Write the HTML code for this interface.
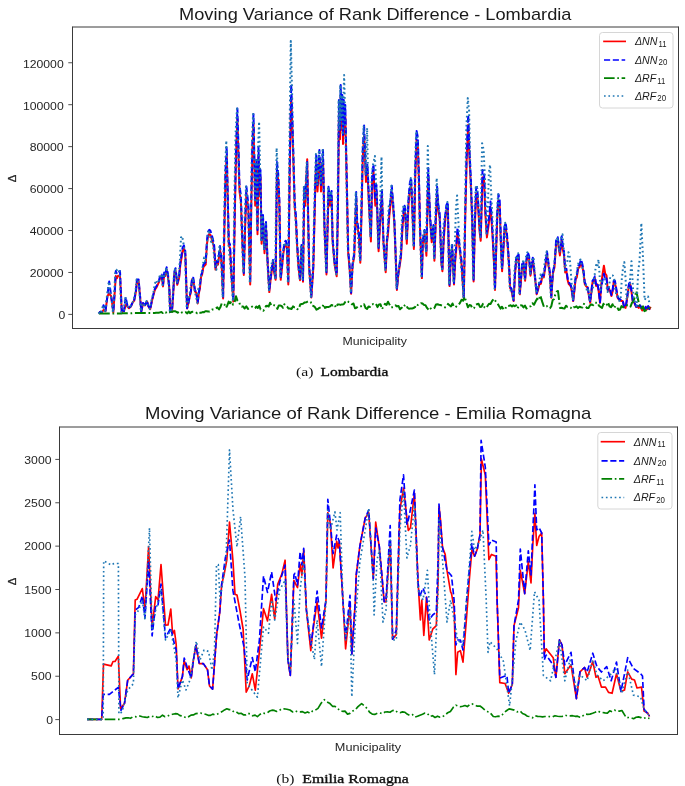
<!DOCTYPE html>
<html><head><meta charset="utf-8"><title>Moving Variance of Rank Difference</title>
<style>
html,body{margin:0;padding:0;background:#ffffff;}
body{width:685px;height:786px;overflow:hidden;font-family:"Liberation Sans",sans-serif;}
svg{display:block;will-change:transform;}
</style></head><body>
<svg width="685" height="786" viewBox="0 0 685 786">
<defs><clipPath id="c1"><rect x="72.5" y="27" width="606" height="301"/></clipPath><clipPath id="c2"><rect x="59.5" y="427" width="618" height="307.5"/></clipPath></defs>
<g fill="none" stroke-linejoin="round" clip-path="url(#c1)">
<polyline points="98.9,313.6 100.2,311.8 101.5,313.0 103.5,310.0 105.5,311.1 107.5,295.9 109.2,293.6 111.0,295.9 112.2,303.6 113.3,312.4 114.8,291.2 115.8,276.0 116.9,278.3 118.0,275.8 120.0,276.0 120.8,291.2 121.8,312.4 122.9,310.6 124.0,311.1 125.7,305.0 127.5,306.4 128.8,308.3 131.0,306.4 132.6,302.7 134.2,300.7 136.0,291.2 137.0,281.1 138.6,281.1 140.0,295.9 141.3,311.5 143.0,303.5 145.0,305.4 147.0,301.6 148.4,306.4 150.2,309.2 152.0,300.7 153.8,293.7 155.1,289.3 156.4,287.7 157.7,284.8 159.1,281.8 160.4,276.4 161.7,276.5 163.0,286.4 164.2,274.7 165.4,276.0 166.6,269.6 167.9,275.6 169.3,288.2 170.2,311.9 172.0,311.1 173.2,294.4 174.3,273.9 175.5,270.5 177.3,284.8 179.1,278.1 180.3,265.2 181.4,258.8 182.6,251.0 183.9,248.8 185.3,254.3 187.1,308.5 188.4,303.3 189.7,296.7 190.9,291.9 192.1,279.2 193.3,279.8 195.0,291.6 196.3,292.8 197.7,303.4 198.8,293.6 199.9,288.3 201.0,277.2 202.1,274.7 203.3,267.3 204.5,265.7 205.7,264.6 206.9,244.7 208.0,236.0 209.2,234.1 210.4,234.8 211.6,238.6 212.8,242.5 214.2,248.8 215.5,269.6 216.8,263.6 218.0,264.6 220.0,249.4 221.6,263.8 223.1,298.4 224.3,232.6 225.5,178.2 226.7,155.3 228.8,245.6 230.0,248.0 231.2,272.2 232.4,288.2 233.3,301.6 234.7,219.3 236.0,157.7 237.4,118.9 239.5,191.4 240.9,201.7 242.4,244.1 243.8,275.0 245.1,227.9 246.4,192.9 248.4,210.4 250.2,284.5 251.3,204.5 252.4,150.5 253.5,124.0 255.2,205.7 256.5,167.7 257.5,234.2 258.5,155.3 259.5,196.2 260.5,177.2 261.6,243.7 263.0,219.9 264.5,253.2 266.0,226.6 267.5,260.8 269.3,292.1 270.5,280.6 271.8,270.5 273.0,262.7 274.3,273.1 275.6,279.8 277.0,169.6 278.2,180.6 279.4,205.7 280.7,279.8 282.0,267.9 283.2,254.7 284.5,246.1 285.8,244.3 287.0,248.4 288.3,284.5 289.8,164.8 291.2,96.0 292.4,129.4 293.5,165.5 294.7,207.4 295.9,220.3 297.0,243.7 298.5,267.4 300.0,280.2 301.5,248.4 303.0,281.7 304.2,193.3 305.2,205.7 307.2,159.3 308.2,221.8 309.2,268.4 311.3,297.5 313.3,268.4 315.3,187.3 316.3,162.0 317.5,191.4 319.4,158.2 321.0,191.4 323.0,158.2 324.5,229.9 326.5,274.4 328.5,193.1 330.0,205.7 331.6,197.1 332.6,241.5 334.6,264.6 336.7,276.3 338.0,205.7 339.0,110.7 340.0,139.2 340.7,96.4 341.5,129.7 342.3,105.9 343.0,143.9 343.8,110.7 344.5,134.4 345.3,115.4 346.0,148.7 346.8,186.7 348.2,253.2 349.6,268.4 351.1,293.7 352.6,265.4 354.2,257.0 356.2,198.1 357.2,225.6 358.8,235.1 360.3,262.7 361.6,210.1 362.8,157.3 364.1,134.9 366.0,181.9 367.5,172.4 369.0,205.7 370.9,241.5 372.1,181.9 373.5,171.9 375.3,205.7 376.5,191.4 378.6,251.3 380.0,224.7 381.9,196.2 383.5,243.7 385.7,272.2 386.9,243.4 388.0,234.2 389.3,215.9 390.5,204.3 391.8,192.2 393.1,207.7 394.4,224.7 395.6,254.9 396.9,289.9 398.3,275.0 399.6,266.3 401.0,257.0 402.5,227.2 404.0,210.4 405.1,212.0 406.8,243.7 408.6,203.2 409.9,189.1 411.2,184.8 413.0,226.6 413.9,248.9 415.2,178.4 416.6,140.1 417.8,145.8 418.9,180.5 420.1,232.0 421.9,278.1 422.8,243.7 424.6,234.1 426.4,255.7 428.2,175.3 430.0,218.4 431.7,242.2 433.5,229.4 434.4,260.8 435.8,220.5 437.1,193.0 438.4,211.4 439.7,218.4 441.5,264.6 442.4,271.2 443.7,240.6 445.0,221.8 446.4,210.6 447.8,207.5 449.5,286.1 450.9,258.1 452.2,248.4 454.0,284.5 455.2,260.6 456.3,248.8 457.5,232.0 458.9,243.3 460.2,253.2 461.4,262.3 462.6,281.0 463.8,298.4 465.3,214.7 466.7,158.5 468.2,124.7 469.5,158.9 470.9,186.7 472.2,221.5 473.6,281.4 474.9,223.9 476.2,193.4 477.3,194.8 478.4,211.1 479.6,231.7 480.7,240.8 482.5,177.2 484.0,178.3 485.4,215.2 486.9,237.4 488.1,228.8 489.3,219.8 490.5,207.0 491.6,221.5 492.8,240.9 493.9,261.1 495.0,289.9 496.2,249.9 497.3,216.3 498.5,200.3 499.7,206.0 500.9,244.2 502.1,271.2 503.3,252.1 504.4,231.3 505.6,227.2 506.7,234.9 507.9,248.6 509.0,265.4 510.1,288.2 511.3,289.6 512.4,295.5 513.6,301.1 514.9,276.0 516.2,260.5 517.4,259.0 518.6,256.2 519.8,294.3 521.0,280.1 522.2,265.1 523.4,263.9 525.1,280.7 526.5,261.4 527.8,255.4 529.1,259.0 530.5,275.7 531.6,266.8 532.8,260.5 534.1,270.7 535.4,281.5 536.7,294.3 538.0,290.0 539.4,284.2 540.9,283.7 542.3,276.6 543.8,277.4 545.4,266.4 547.0,254.6 548.4,264.8 549.9,274.4 551.3,297.7 552.9,273.8 554.5,267.2 556.1,244.1 557.7,241.0 559.9,255.4 561.7,240.2 562.9,249.7 564.0,254.8 565.2,272.4 566.4,271.0 567.6,279.9 568.8,284.2 569.9,285.1 571.0,287.1 572.1,293.0 573.2,301.1 574.4,290.5 575.6,279.2 576.8,277.4 578.2,268.2 579.5,267.4 580.9,262.2 582.2,266.0 583.5,272.5 584.8,284.2 586.1,286.3 587.5,287.4 588.9,295.5 590.2,302.8 591.4,292.2 592.5,282.5 593.7,280.7 594.9,278.1 596.1,285.9 597.3,284.2 598.6,290.8 600.0,302.8 601.3,283.6 602.6,273.8 603.9,265.7 605.2,273.7 606.5,275.3 607.8,290.9 609.0,288.6 610.2,291.4 611.4,296.0 612.6,291.4 613.7,282.4 614.9,282.4 616.2,289.4 617.6,297.7 618.8,299.4 620.0,299.8 621.2,301.1 622.7,300.9 624.1,307.2 625.6,307.9 626.7,301.3 627.9,292.7 629.0,285.0 630.1,284.2 631.4,291.2 632.7,301.1 633.9,301.6 635.1,304.7 636.3,307.0 637.5,306.3 638.7,308.0 639.8,305.6 641.0,307.1 642.2,310.5 643.4,308.8 644.6,310.1 645.8,307.1 647.0,309.3 648.2,306.5 649.4,309.2 650.6,306.7" stroke="#ff0000" stroke-width="2.00" stroke-linecap="butt"/>
<polyline points="98.9,313.6 100.2,311.7 101.5,313.0 103.5,305.2 105.5,311.0 107.5,295.0 109.2,281.6 111.0,295.0 112.2,303.1 113.3,312.3 114.8,290.0 115.8,271.0 116.9,274.0 118.0,272.0 120.0,271.0 120.8,290.0 121.8,312.3 122.9,310.4 124.0,311.0 125.7,297.2 127.5,306.0 128.8,308.0 131.0,306.0 132.6,302.1 134.2,300.0 136.0,290.0 137.0,279.4 138.6,279.4 140.0,295.0 141.3,311.4 143.0,303.0 145.0,305.0 147.0,301.0 148.4,306.0 150.2,309.0 152.0,300.0 153.8,292.7 155.1,288.0 156.4,286.3 157.7,283.3 159.1,280.2 160.4,274.4 161.7,274.5 163.0,285.0 164.2,272.6 165.4,274.1 166.6,267.3 167.9,273.6 169.3,286.9 170.2,311.8 172.0,311.0 173.2,293.4 174.3,271.9 175.5,268.2 177.3,283.3 179.1,276.2 180.3,262.6 181.4,255.9 182.6,247.7 183.9,245.4 185.3,251.2 187.1,308.2 188.4,302.8 189.7,295.8 190.9,290.8 192.1,277.4 193.3,278.0 195.0,290.4 196.3,291.7 197.7,302.9 198.8,292.6 199.9,286.9 201.0,275.3 202.1,272.6 203.3,264.8 204.5,263.2 205.7,262.0 206.9,241.1 208.0,231.9 209.2,229.9 210.4,230.7 211.6,234.7 212.8,238.8 214.2,245.4 215.5,267.3 216.8,260.9 218.0,262.0 220.0,246.0 221.6,261.2 223.1,297.6 224.3,228.3 225.5,171.1 226.7,147.0 228.8,242.0 230.0,244.5 231.2,270.0 232.4,286.9 233.3,301.0 234.7,214.3 236.0,149.5 237.4,108.6 239.5,185.0 240.9,195.8 242.4,240.4 243.8,273.0 245.1,223.4 246.4,186.5 248.4,205.0 250.2,283.0 251.3,198.8 252.4,141.9 253.5,114.0 255.2,200.0 256.5,160.0 257.5,230.0 258.5,147.0 259.5,190.0 260.5,170.0 261.6,240.0 263.0,215.0 264.5,250.0 266.0,222.0 267.5,258.0 269.3,291.0 270.5,278.9 271.8,268.2 273.0,260.0 274.3,271.0 275.6,278.0 277.0,162.0 278.2,173.6 279.4,200.0 280.7,278.0 282.0,265.5 283.2,251.5 284.5,242.5 285.8,240.7 287.0,245.0 288.3,283.0 289.8,157.0 291.2,84.5 292.4,119.7 293.5,157.7 294.7,201.8 295.9,215.4 297.0,240.0 298.5,265.0 300.0,278.4 301.5,245.0 303.0,280.0 304.2,187.0 305.2,200.0 307.2,162.0 308.2,217.0 309.2,266.0 311.3,296.7 313.3,266.0 315.3,180.7 316.3,154.0 317.5,185.0 319.4,150.0 321.0,185.0 323.0,150.0 324.5,225.5 326.5,272.3 328.5,186.8 330.0,200.0 331.6,191.0 332.6,237.7 334.6,262.0 336.7,274.3 338.0,200.0 339.0,100.0 340.0,130.0 340.7,85.0 341.5,120.0 342.3,95.0 343.0,135.0 343.8,100.0 344.5,125.0 345.3,105.0 346.0,140.0 346.8,180.0 348.2,250.0 349.6,266.1 351.1,292.7 352.6,262.8 354.2,254.0 356.2,192.0 357.2,221.0 358.8,230.9 360.3,260.0 361.6,204.7 362.8,149.1 364.1,125.5 366.0,175.0 367.5,165.0 369.0,200.0 370.9,237.7 372.1,175.0 373.5,164.4 375.3,200.0 376.5,185.0 378.6,248.0 380.0,220.0 381.9,190.0 383.5,240.0 385.7,270.0 386.9,239.7 388.0,230.0 389.3,210.8 390.5,198.5 391.8,185.8 393.1,202.2 394.4,220.0 395.6,251.8 396.9,288.6 398.3,272.9 399.6,263.8 401.0,254.0 402.5,222.7 404.0,205.0 405.1,206.7 406.8,240.0 408.6,197.4 409.9,182.5 411.2,178.0 413.0,222.0 413.9,245.5 415.2,171.2 416.6,131.0 417.8,136.9 418.9,173.5 420.1,227.7 421.9,276.2 422.8,240.0 424.6,229.9 426.4,252.6 428.2,168.0 430.0,213.4 431.7,238.4 433.5,225.0 434.4,258.0 435.8,215.6 437.1,186.7 438.4,206.0 439.7,213.4 441.5,262.0 442.4,269.0 443.7,236.8 445.0,217.0 446.4,205.2 447.8,201.9 449.5,284.7 450.9,255.2 452.2,245.0 454.0,283.0 455.2,257.8 456.3,245.4 457.5,227.7 458.9,239.6 460.2,250.0 461.4,259.6 462.6,279.3 463.8,297.6 465.3,209.5 466.7,150.4 468.2,114.8 469.5,150.8 470.9,180.0 472.2,216.6 473.6,279.7 474.9,219.1 476.2,187.1 477.3,188.5 478.4,205.7 479.6,227.4 480.7,237.0 482.5,170.0 484.0,171.1 485.4,210.0 486.9,233.4 488.1,224.4 489.3,214.8 490.5,201.4 491.6,216.7 492.8,237.0 493.9,258.3 495.0,288.7 496.2,246.5 497.3,211.1 498.5,194.3 499.7,200.4 500.9,240.5 502.1,269.0 503.3,248.8 504.4,227.0 505.6,222.7 506.7,230.8 507.9,245.2 509.0,262.8 510.1,286.9 511.3,288.4 512.4,294.5 513.6,300.4 514.9,274.0 516.2,257.7 517.4,256.2 518.6,253.2 519.8,293.3 521.0,278.3 522.2,262.5 523.4,261.3 525.1,279.0 526.5,258.7 527.8,252.3 529.1,256.1 530.5,273.7 531.6,264.3 532.8,257.7 534.1,268.5 535.4,279.8 536.7,293.3 538.0,288.7 539.4,282.6 540.9,282.1 542.3,274.6 543.8,275.5 545.4,263.9 547.0,251.5 548.4,262.2 549.9,272.4 551.3,296.9 552.9,271.7 554.5,264.8 556.1,240.5 557.7,237.2 559.9,252.3 561.7,236.3 562.9,246.4 564.0,251.7 565.2,270.2 566.4,268.8 567.6,278.1 568.8,282.6 569.9,283.6 571.0,285.7 572.1,291.9 573.2,300.4 574.4,289.3 575.6,277.4 576.8,275.5 578.2,265.9 579.5,264.9 580.9,259.5 582.2,263.4 583.5,270.3 584.8,282.6 586.1,284.8 587.5,286.0 588.9,294.6 590.2,302.2 591.4,291.1 592.5,280.9 593.7,279.0 594.9,276.3 596.1,284.4 597.3,282.6 598.6,289.6 600.0,302.2 601.3,287.1 602.6,280.1 603.9,273.7 605.2,279.7 606.5,278.4 607.8,289.7 609.0,287.3 610.2,290.2 611.4,295.1 612.6,290.2 613.7,280.8 614.9,280.8 616.2,288.1 617.6,296.9 618.8,298.7 620.0,299.1 621.2,300.4 622.7,300.2 624.1,306.8 625.6,307.6 626.7,300.6 627.9,291.6 629.0,283.5 630.1,282.6 631.4,290.0 632.7,300.4 633.9,301.0 635.1,304.2 636.3,306.7 637.5,305.9 638.7,307.7 639.8,305.2 641.0,306.7 642.2,310.3 643.4,308.5 644.6,309.9 645.8,306.7 647.0,309.1 648.2,306.1 649.4,309.0 650.6,306.7" stroke="#0000ff" stroke-width="2.00" stroke-dasharray="6.29 2.72"/>
<polyline points="98.9,313.6 100.2,313.6 101.5,313.6 102.9,313.6 104.2,313.6 105.5,313.5 106.8,313.5 108.1,313.5 109.5,313.5 110.8,313.5 112.1,313.5 113.4,313.5 114.7,313.4 116.0,313.4 117.4,313.4 118.7,313.4 120.0,313.4 121.3,313.4 122.7,313.3 124.0,313.3 125.3,313.3 126.7,313.3 128.0,313.2 129.3,313.2 130.7,313.2 132.0,313.2 133.3,313.1 134.7,313.1 136.0,313.1 137.3,313.1 138.7,313.0 140.0,313.0 141.3,313.0 142.7,313.0 144.0,313.0 145.3,312.9 146.7,312.9 148.0,312.9 149.3,312.9 150.7,312.9 152.0,312.9 153.3,312.9 154.7,312.9 156.0,312.8 157.3,312.8 158.7,312.8 160.0,312.4 161.4,312.0 162.7,313.0 164.1,311.7 165.5,312.6 166.8,312.2 168.2,311.5 169.5,312.3 170.9,311.3 172.3,312.0 173.6,311.2 175.0,311.2 176.4,311.9 177.7,312.7 179.1,311.4 180.5,311.6 181.8,312.5 183.2,313.2 184.5,312.5 185.9,312.2 187.3,313.4 188.6,311.5 190.0,313.2 191.4,312.1 192.9,311.8 194.3,311.7 195.7,312.1 197.1,313.1 198.6,311.9 200.0,312.7 201.3,312.7 202.7,312.1 204.0,312.3 205.3,311.3 206.7,311.2 208.0,311.4 209.5,311.6 211.0,310.4 212.5,309.4 214.0,309.4 215.7,308.4 217.3,307.4 219.0,309.4 220.3,307.3 221.7,303.4 223.0,303.4 224.5,304.6 226.0,307.8 227.3,305.4 228.7,301.6 230.0,303.3 231.5,301.2 233.0,304.6 234.5,302.7 236.0,296.3 237.5,300.9 239.0,301.8 240.3,305.5 241.7,306.6 243.0,306.4 244.7,308.5 246.3,306.4 248.0,308.9 249.4,308.1 250.8,307.6 252.2,306.6 253.6,308.0 255.0,308.1 256.4,306.5 257.8,308.0 259.2,305.7 260.6,309.4 262.0,309.7 263.3,310.7 264.7,309.2 266.0,306.0 267.3,305.8 268.7,306.5 270.0,302.7 271.5,305.6 273.0,304.9 274.5,305.4 276.0,305.9 277.4,308.9 278.8,305.4 280.2,305.6 281.6,305.9 283.0,307.8 284.4,304.2 285.8,306.2 287.2,306.8 288.6,308.6 290.0,308.5 291.5,309.0 293.0,306.4 294.5,307.3 296.0,307.3 297.4,309.2 298.8,309.0 300.2,304.5 301.6,304.0 303.0,303.7 304.7,302.4 306.3,302.3 308.0,301.4 309.3,301.5 310.7,302.0 312.0,305.6 313.5,305.9 315.0,307.3 316.5,309.7 318.0,308.9 319.4,307.7 320.8,307.8 322.2,307.6 323.6,304.3 325.0,307.9 326.7,307.0 328.3,307.1 330.0,306.4 331.5,305.0 333.0,305.5 334.5,304.6 336.0,307.6 337.5,304.6 339.0,304.4 340.5,304.9 342.0,304.4 343.7,304.2 345.3,301.9 347.0,300.6 348.7,302.0 350.3,302.4 352.0,304.3 353.5,303.5 355.0,308.3 356.5,307.8 358.0,306.3 359.5,306.3 361.0,306.3 362.5,305.8 364.0,304.2 365.5,307.9 367.0,308.9 368.5,306.6 370.0,306.9 371.5,304.5 373.0,304.1 374.5,304.7 376.0,303.9 377.5,307.1 379.0,304.4 380.5,304.2 382.0,309.2 383.5,306.4 385.0,303.8 386.5,305.0 388.0,301.7 389.5,304.6 391.0,307.3 392.5,307.2 394.0,306.9 395.5,305.4 397.0,306.4 398.5,305.9 400.0,309.3 401.5,307.7 403.0,308.3 404.5,305.7 406.0,304.7 407.5,307.7 409.0,308.8 410.5,308.4 412.0,308.5 413.5,308.0 415.0,307.2 416.5,304.2 418.0,305.1 419.5,304.6 421.0,303.2 422.5,303.5 424.0,304.9 425.5,305.3 427.0,307.9 428.5,309.7 430.0,307.7 431.5,309.3 433.0,308.8 434.5,307.9 436.0,304.4 437.5,304.2 439.0,304.7 440.5,305.0 442.0,305.6 443.5,306.8 445.0,307.4 446.5,306.4 448.0,303.9 449.5,305.2 451.0,306.4 452.5,303.5 454.0,306.8 455.5,307.2 457.0,305.9 458.5,305.0 460.0,302.9 461.6,299.7 463.1,300.8 464.7,296.8 466.4,302.7 468.0,307.3 469.5,305.0 471.0,305.5 472.5,308.6 474.0,308.1 475.5,304.9 477.0,304.2 478.5,303.8 480.0,306.9 481.5,306.7 483.0,303.8 484.5,307.3 486.0,308.3 487.5,306.0 489.0,303.8 490.5,304.0 492.0,301.2 493.9,298.7 495.8,301.3 497.4,303.2 499.0,306.1 500.5,308.6 502.0,306.7 503.5,309.3 505.0,309.6 506.4,306.2 507.8,306.0 509.2,305.8 510.6,305.2 512.0,306.4 513.3,305.2 514.7,306.3 516.0,305.2 517.5,308.5 519.0,305.3 520.5,305.3 522.0,305.4 523.5,307.4 525.0,305.6 526.5,308.5 528.0,307.0 529.5,306.7 531.0,306.1 532.5,303.2 534.0,304.7 535.6,301.5 537.1,298.6 538.7,300.4 540.3,295.4 542.1,301.4 544.0,307.1 545.5,306.8 547.0,306.2 548.5,307.6 550.0,308.3 551.3,306.3 552.7,300.0 554.0,299.1 555.3,294.6 556.7,291.7 558.0,291.0 560.0,308.0 561.5,307.8 563.0,308.2 564.5,308.5 566.0,305.7 567.5,307.0 569.0,307.0 570.5,307.6 572.0,308.9 573.5,307.3 575.0,307.2 576.5,306.4 578.0,308.1 579.5,306.7 581.0,307.3 582.5,307.4 584.0,303.8 585.5,305.8 587.0,308.1 588.5,308.1 590.0,305.3 591.5,304.4 593.0,305.2 594.5,302.7 596.0,302.8 597.5,302.5 599.0,305.8 600.5,306.9 602.0,307.9 603.5,303.8 605.0,306.0 606.5,305.3 608.0,302.3 609.5,306.3 611.0,307.2 612.5,304.2 614.0,308.2 615.5,306.0 617.0,306.9 618.5,309.9 620.0,309.6 621.5,306.1 623.0,307.2 624.5,307.3 626.0,306.2 627.5,305.0 629.0,305.1 630.5,306.6 632.0,302.7 633.4,301.4 634.9,296.9 636.3,291.0 638.1,299.8 640.0,308.6 641.5,308.3 643.0,306.4 644.5,311.1 646.0,310.4 647.5,310.9 649.1,306.4 650.6,308.0" stroke="#008000" stroke-width="2.00" stroke-dasharray="10.88 2.72 1.70 2.72"/>
<polyline points="98.5,313.6 99.8,311.9 101.1,313.0 103.1,305.2 105.1,311.0 107.1,295.0 108.8,281.6 110.6,295.0 111.8,301.4 112.9,312.3 114.4,290.0 115.4,271.0 116.5,269.7 117.6,272.0 119.6,271.0 120.4,290.0 121.4,312.3 122.5,312.0 123.6,311.0 125.3,297.2 127.1,306.0 128.4,308.0 130.6,306.0 132.2,303.0 133.8,300.0 135.6,290.0 136.6,279.4 138.2,279.4 139.6,295.0 140.9,311.4 142.6,303.0 144.6,305.0 146.6,301.0 148.0,306.0 149.8,309.0 151.6,300.0 153.4,292.7 154.7,284.3 156.0,280.2 157.3,283.3 158.7,281.4 160.0,274.4 161.3,275.4 162.6,285.0 163.8,273.9 165.0,277.0 166.2,267.3 167.5,273.9 168.9,286.9 169.8,311.8 171.6,311.0 172.8,294.5 173.9,276.2 175.1,268.2 176.9,283.3 178.7,276.2 179.9,260.0 181.0,237.6 182.2,236.0 183.5,243.8 184.9,251.2 186.7,308.2 188.0,302.9 189.3,295.8 190.5,287.9 191.7,284.0 192.9,278.0 194.6,290.4 195.9,296.3 197.3,302.9 198.4,288.4 199.5,286.0 200.6,277.5 201.7,272.6 202.9,265.1 204.1,257.5 205.3,262.0 206.5,253.6 207.6,235.6 208.8,229.9 210.0,235.9 211.2,242.0 212.4,238.8 213.8,252.4 215.1,267.3 216.3,269.8 217.6,262.0 219.6,246.0 221.2,262.8 222.7,297.6 223.9,232.3 225.1,169.1 226.3,140.6 228.4,242.0 229.6,257.8 230.8,271.6 232.0,286.9 232.9,301.0 234.3,204.0 235.6,132.8 237.0,108.6 239.1,185.0 240.5,194.8 242.0,242.0 243.4,273.0 244.7,215.7 246.0,186.5 248.0,205.0 249.8,283.0 250.9,209.1 252.0,139.5 253.1,114.0 254.8,200.0 256.1,160.0 257.1,230.0 258.1,147.0 259.1,121.6 260.1,170.0 261.2,240.0 262.6,215.0 264.1,250.0 265.6,222.0 267.1,258.0 268.9,291.0 270.1,277.0 271.4,264.4 272.6,260.0 273.9,264.3 275.2,278.0 276.6,148.0 277.8,169.1 279.0,200.0 280.3,278.0 281.6,263.0 282.8,256.0 284.1,242.5 285.4,246.6 286.6,245.0 287.9,283.0 289.4,143.1 290.8,41.0 292.0,89.2 293.1,147.3 294.3,201.8 295.5,219.2 296.6,240.0 298.1,265.0 299.6,278.4 301.1,245.0 302.6,280.0 303.8,187.0 304.8,200.0 306.8,162.0 307.8,217.0 308.8,266.0 310.9,296.7 312.9,266.0 314.9,180.7 315.9,154.0 317.1,185.0 319.0,150.0 320.6,185.0 322.6,150.0 324.1,225.5 326.1,272.3 328.1,186.8 329.6,200.0 331.2,191.0 332.2,237.7 334.2,262.0 336.3,274.3 337.6,200.0 338.6,100.0 339.6,130.0 340.3,85.0 341.1,120.0 341.9,95.0 342.6,135.0 343.4,100.0 344.1,75.0 344.9,105.0 345.6,140.0 346.4,180.0 347.8,250.0 349.2,260.5 350.7,292.7 352.2,272.5 353.8,254.0 355.8,192.0 356.8,221.0 358.4,243.7 359.9,260.0 361.2,209.1 362.4,153.7 363.7,125.5 365.6,175.0 367.1,127.9 368.6,200.0 370.5,237.7 371.7,175.0 373.1,164.4 374.9,156.0 376.1,185.0 378.2,248.0 379.6,220.0 381.5,156.7 383.1,240.0 385.3,270.0 386.5,247.9 387.6,230.0 388.9,203.0 390.1,203.1 391.4,185.8 392.7,200.5 394.0,217.5 395.2,245.6 396.5,288.6 397.9,277.2 399.2,267.8 400.6,254.0 402.1,213.5 403.6,205.0 404.7,206.7 406.4,240.0 408.2,197.4 409.5,193.3 410.8,178.0 412.6,222.0 413.5,245.5 414.9,168.7 416.2,131.0 417.4,137.6 418.5,177.8 419.7,227.7 421.5,276.2 422.4,240.0 424.2,229.9 426.0,252.6 427.8,146.0 429.6,213.4 431.3,238.4 433.1,225.0 434.0,258.0 435.4,212.8 436.7,178.0 438.0,200.6 439.3,213.4 441.1,262.0 442.0,269.0 443.3,226.7 444.6,217.0 446.0,210.0 447.4,201.9 449.1,284.7 450.5,252.3 451.8,245.0 453.6,283.0 454.8,247.0 455.9,208.5 457.1,195.6 458.5,223.5 459.8,250.0 461.0,266.3 462.2,276.0 463.4,297.6 464.9,218.7 466.3,129.3 467.8,97.9 469.1,110.6 470.5,180.0 471.9,217.5 473.2,279.7 474.5,209.6 475.8,187.1 476.9,185.3 478.1,202.5 479.2,221.9 480.3,237.0 482.1,143.3 483.6,149.5 485.0,180.1 486.5,233.4 487.7,211.3 488.9,172.4 490.1,164.7 491.2,193.5 492.4,218.0 493.5,243.1 494.6,288.7 495.8,245.0 496.9,212.9 498.1,194.3 499.3,212.1 500.5,236.8 501.7,269.0 502.9,248.9 504.0,234.0 505.2,222.7 506.3,239.5 507.5,245.5 508.6,263.4 509.7,286.9 510.9,291.6 512.0,292.0 513.2,300.4 514.5,270.3 515.8,257.7 517.0,262.2 518.2,253.2 519.4,293.3 520.6,279.0 521.8,268.1 523.0,261.3 524.7,279.0 526.1,254.7 527.4,252.3 528.8,258.6 530.1,273.7 531.2,264.5 532.4,257.7 533.7,257.9 535.0,278.4 536.3,293.3 537.6,287.7 539.0,282.6 540.5,274.5 541.9,278.3 543.4,275.5 545.0,259.5 546.6,251.5 548.0,262.9 549.5,274.5 550.9,296.9 552.5,278.6 554.1,264.8 555.7,251.0 557.3,237.2 559.5,252.3 561.3,236.3 562.5,234.3 563.6,247.9 564.8,270.2 566.0,264.6 567.2,262.9 568.4,252.3 569.5,254.6 570.6,268.7 571.7,284.5 572.8,300.4 574.0,287.4 575.2,278.8 576.4,275.5 577.8,265.7 579.1,260.7 580.5,259.5 581.8,265.3 583.1,269.6 584.4,282.6 585.7,283.5 587.0,291.3 588.3,289.9 589.6,300.0 590.9,293.8 592.3,290.2 593.6,285.0 594.8,273.8 596.1,264.9 597.3,267.0 598.5,259.5 600.6,290.0 602.1,280.8 603.6,280.0 604.9,279.0 606.3,285.9 607.6,292.0 608.9,288.2 610.2,277.0 611.5,275.5 612.8,275.5 614.1,277.6 615.3,289.9 616.6,296.0 617.9,296.3 619.3,300.9 620.6,300.0 621.8,279.2 623.1,267.3 624.3,262.1 625.5,277.3 626.6,300.0 628.1,293.8 629.6,285.0 631.5,261.2 633.6,300.0 635.1,301.8 636.6,306.0 638.1,273.0 639.6,260.0 641.3,223.0 643.1,260.0 644.6,300.0 646.6,296.9 648.1,296.5 649.6,304.0" stroke="#1f77b4" stroke-width="2.00" stroke-dasharray="1.70 2.80"/>
</g>
<g stroke="#3a3a3a" stroke-width="1" fill="none">
<line x1="72.5" y1="27.0" x2="678.5" y2="27.0"/>
<line x1="72.5" y1="328.5" x2="678.5" y2="328.5"/>
<line x1="72.5" y1="26.5" x2="72.5" y2="329.0"/>
<line x1="678.5" y1="26.5" x2="678.5" y2="329.0"/>
</g>
<line x1="68.3" y1="314.40" x2="72.5" y2="314.40" stroke="#3a3a3a" stroke-width="0.9"/>
<text x="65.3" y="319.20" font-family='"Liberation Sans", sans-serif' font-size="11.2" fill="#262626" text-anchor="end" textLength="6.8" lengthAdjust="spacingAndGlyphs">0</text>
<line x1="68.3" y1="272.46" x2="72.5" y2="272.46" stroke="#3a3a3a" stroke-width="0.9"/>
<text x="63.7" y="277.26" font-family='"Liberation Sans", sans-serif' font-size="11.2" fill="#262626" text-anchor="end" textLength="34.0" lengthAdjust="spacingAndGlyphs">20000</text>
<line x1="68.3" y1="230.52" x2="72.5" y2="230.52" stroke="#3a3a3a" stroke-width="0.9"/>
<text x="63.7" y="235.32" font-family='"Liberation Sans", sans-serif' font-size="11.2" fill="#262626" text-anchor="end" textLength="34.0" lengthAdjust="spacingAndGlyphs">40000</text>
<line x1="68.3" y1="188.58" x2="72.5" y2="188.58" stroke="#3a3a3a" stroke-width="0.9"/>
<text x="63.7" y="193.38" font-family='"Liberation Sans", sans-serif' font-size="11.2" fill="#262626" text-anchor="end" textLength="34.0" lengthAdjust="spacingAndGlyphs">60000</text>
<line x1="68.3" y1="146.64" x2="72.5" y2="146.64" stroke="#3a3a3a" stroke-width="0.9"/>
<text x="63.7" y="151.44" font-family='"Liberation Sans", sans-serif' font-size="11.2" fill="#262626" text-anchor="end" textLength="34.0" lengthAdjust="spacingAndGlyphs">80000</text>
<line x1="68.3" y1="104.70" x2="72.5" y2="104.70" stroke="#3a3a3a" stroke-width="0.9"/>
<text x="63.7" y="109.50" font-family='"Liberation Sans", sans-serif' font-size="11.2" fill="#262626" text-anchor="end" textLength="40.8" lengthAdjust="spacingAndGlyphs">100000</text>
<line x1="68.3" y1="62.76" x2="72.5" y2="62.76" stroke="#3a3a3a" stroke-width="0.9"/>
<text x="63.7" y="67.56" font-family='"Liberation Sans", sans-serif' font-size="11.2" fill="#262626" text-anchor="end" textLength="40.8" lengthAdjust="spacingAndGlyphs">120000</text>
<rect x="599.5" y="32.5" width="73.5" height="75.5" rx="3" ry="3" fill="#ffffff" fill-opacity="0.8" stroke="#d6d6d6" stroke-width="1"/>
<line x1="604.0" y1="41.4" x2="625.2" y2="41.4" stroke="#ff0000" stroke-width="1.66" stroke-linecap="square"/>
<text x="634.9" y="44.8" font-family='"Liberation Sans", sans-serif' font-size="10.1" font-style="italic" fill="#1a1a1a" textLength="22.6" lengthAdjust="spacingAndGlyphs">&#916;NN</text>
<text x="658.6" y="46.5" font-family='"Liberation Sans", sans-serif' font-size="9.1" fill="#1a1a1a" textLength="8.0" lengthAdjust="spacingAndGlyphs">11</text>
<line x1="604.0" y1="60.0" x2="625.2" y2="60.0" stroke="#0000ff" stroke-width="1.66" stroke-dasharray="6.14 2.66"/>
<text x="634.9" y="63.5" font-family='"Liberation Sans", sans-serif' font-size="10.1" font-style="italic" fill="#1a1a1a" textLength="22.6" lengthAdjust="spacingAndGlyphs">&#916;NN</text>
<text x="658.6" y="65.2" font-family='"Liberation Sans", sans-serif' font-size="9.1" fill="#1a1a1a" textLength="8.8" lengthAdjust="spacingAndGlyphs">20</text>
<line x1="604.0" y1="78.1" x2="625.2" y2="78.1" stroke="#008000" stroke-width="1.66" stroke-dasharray="10.62 2.66 1.66 2.66"/>
<text x="634.9" y="81.8" font-family='"Liberation Sans", sans-serif' font-size="10.1" font-style="italic" fill="#1a1a1a" textLength="21.3" lengthAdjust="spacingAndGlyphs">&#916;RF</text>
<text x="657.3" y="83.5" font-family='"Liberation Sans", sans-serif' font-size="9.1" fill="#1a1a1a" textLength="8.0" lengthAdjust="spacingAndGlyphs">11</text>
<line x1="604.0" y1="96.0" x2="625.2" y2="96.0" stroke="#1f77b4" stroke-width="1.66" stroke-dasharray="1.66 2.74"/>
<text x="634.9" y="99.6" font-family='"Liberation Sans", sans-serif' font-size="10.1" font-style="italic" fill="#1a1a1a" textLength="21.3" lengthAdjust="spacingAndGlyphs">&#916;RF</text>
<text x="657.3" y="101.3" font-family='"Liberation Sans", sans-serif' font-size="9.1" fill="#1a1a1a" textLength="8.8" lengthAdjust="spacingAndGlyphs">20</text>
<text x="179" y="19.7" font-family='"Liberation Sans", sans-serif' font-size="16.2" fill="#1a1a1a" textLength="392.5" lengthAdjust="spacingAndGlyphs">Moving Variance of Rank Difference - Lombardia</text>
<text x="342.5" y="344.9" font-family='"Liberation Sans", sans-serif' font-size="10.8" fill="#262626" textLength="64.3" lengthAdjust="spacingAndGlyphs">Municipality</text>
<text transform="translate(15.7,178.5) rotate(-90)" text-anchor="middle" font-family='"Liberation Sans", sans-serif' font-size="11.3" fill="#262626" stroke="#262626" stroke-width="0.25">&#916;</text>
<text x="296" y="376.1" font-family='"Liberation Serif", serif' font-size="12.6" fill="#111" textLength="17.5" lengthAdjust="spacingAndGlyphs">(a)</text>
<text x="320.6" y="376.1" font-family='"Liberation Serif", serif' font-size="12.6" fill="#111" stroke="#111" stroke-width="0.35" textLength="67.8" lengthAdjust="spacingAndGlyphs">Lombardia</text>
<g fill="none" stroke-linejoin="round" clip-path="url(#c2)">
<polyline points="87.1,719.3 101.7,719.3 103.5,664.1 111.2,665.9 113.0,661.5 115.0,661.5 118.3,656.1 120.6,708.7 124.5,703.3 127.7,680.2 131.7,675.7 133.4,674.0 135.2,600.0 137.0,599.3 142.3,588.6 145.0,609.0 148.6,546.7 152.1,626.9 155.7,596.6 158.0,600.0 161.0,564.5 165.5,625.1 168.0,625.0 170.8,609.0 172.6,634.0 174.4,630.4 176.2,644.5 178.0,689.0 182.4,676.6 184.2,660.6 187.1,669.7 189.0,666.0 191.2,677.9 193.2,661.6 195.9,645.3 199.3,663.6 203.4,663.6 207.5,669.7 209.5,686.0 212.6,689.1 216.6,635.1 219.7,612.7 221.7,584.2 223.8,576.1 226.8,560.0 229.5,522.0 232.9,560.0 235.0,594.4 237.0,595.0 240.0,610.7 243.1,629.0 246.2,692.1 249.2,686.0 252.3,673.8 255.3,690.1 259.4,651.4 263.5,608.7 267.5,620.9 271.6,594.4 274.7,618.9 277.7,584.2 281.8,574.1 285.1,560.2 287.9,659.6 290.3,675.5 293.9,580.4 297.5,587.6 300.1,564.4 301.9,575.1 303.7,550.0 306.4,610.0 310.8,650.6 312.6,632.8 317.1,601.8 321.5,638.1 326.0,600.0 327.8,512.7 330.4,523.4 333.1,568.0 336.7,541.2 338.0,548.0 339.3,541.2 342.9,600.0 345.6,648.8 350.0,605.0 351.8,654.1 355.4,600.0 356.2,575.1 359.8,546.6 361.6,536.8 365.2,518.1 368.7,512.7 373.3,578.8 375.7,522.0 379.3,547.4 384.2,601.7 386.0,602.0 390.2,542.5 392.6,639.2 396.3,634.4 399.9,510.0 403.5,488.1 408.3,530.4 410.5,527.7 414.4,493.0 418.0,581.2 420.4,619.9 421.8,600.0 423.8,635.4 426.5,597.1 429.2,639.9 432.7,629.2 436.3,625.6 438.1,580.0 439.0,506.3 440.5,520.0 442.5,547.3 445.2,554.4 447.0,570.4 450.6,591.8 451.5,593.6 454.1,607.8 455.9,674.6 457.7,652.3 460.4,650.6 463.0,662.1 466.6,616.7 469.3,580.0 471.9,550.0 474.6,556.2 477.3,549.1 480.0,534.8 481.4,458.9 485.3,475.0 488.9,559.7 491.5,554.4 496.0,556.2 497.1,600.0 499.8,682.6 505.1,683.5 508.7,693.3 512.3,684.4 514.0,625.6 518.5,607.8 520.3,570.4 524.7,593.6 528.3,561.5 531.0,582.9 532.8,545.0 534.9,513.4 536.7,545.5 539.0,536.6 541.7,533.0 543.4,600.0 544.3,654.1 546.1,648.8 553.2,657.7 555.9,677.3 559.5,639.9 562.0,645.0 564.8,673.7 571.0,664.8 576.4,698.7 580.0,671.9 584.5,667.5 587.1,677.3 590.0,670.0 592.8,661.3 596.0,677.3 598.0,676.0 601.4,687.1 605.5,687.1 608.5,692.4 612.1,693.3 616.5,673.7 621.0,691.5 624.5,690.0 627.7,671.9 631.7,679.1 634.5,680.0 637.0,688.0 641.5,687.1 644.1,711.1 647.7,712.9 649.5,716.5" stroke="#ff0000" stroke-width="1.66" stroke-linecap="butt"/>
<polyline points="87.1,719.3 101.7,719.3 103.2,694.4 109.4,694.4 118.3,687.3 121.0,710.4 124.5,703.3 127.7,680.2 131.7,675.7 133.4,674.0 135.2,610.0 138.8,607.3 142.3,596.0 145.0,618.0 148.6,561.0 152.1,635.8 155.7,605.0 158.0,605.0 161.0,584.1 165.5,637.6 170.8,628.0 174.4,644.0 176.2,650.0 178.0,689.0 182.4,676.6 184.2,658.0 187.1,667.0 191.2,677.9 193.2,661.6 195.9,645.3 199.3,663.6 203.4,663.6 207.5,669.7 209.5,686.0 212.6,689.1 216.6,635.1 219.7,612.7 221.7,584.2 225.4,557.6 229.5,540.0 232.9,590.4 239.0,622.9 244.1,647.4 247.2,680.0 252.3,657.5 255.3,671.8 259.4,640.0 263.5,576.1 267.5,592.4 271.6,572.0 275.7,600.5 279.7,582.2 285.1,565.0 287.9,659.6 290.3,675.5 293.9,575.0 294.8,573.3 297.5,585.0 300.1,551.9 301.9,565.0 303.7,548.4 306.4,610.0 310.8,645.0 312.6,632.8 317.1,591.1 321.5,628.0 326.0,600.0 327.8,499.4 330.4,523.4 333.1,553.7 336.7,535.0 339.3,541.2 342.9,600.0 345.6,638.1 350.0,595.3 351.8,654.1 355.4,600.0 356.2,575.1 359.8,546.6 361.6,536.8 365.2,518.1 368.7,510.0 373.3,578.8 375.8,528.0 379.4,546.6 384.2,601.7 386.0,600.0 390.2,525.6 392.6,639.2 396.3,630.0 399.9,500.0 403.5,474.8 406.9,524.1 408.3,520.0 414.4,490.0 418.0,581.2 419.4,597.2 423.0,588.2 426.5,597.1 429.2,620.0 432.7,615.0 436.3,612.0 438.1,560.0 439.0,504.0 442.5,547.3 447.0,570.4 451.5,575.8 454.1,600.0 455.9,645.0 457.7,640.0 460.4,640.0 463.0,650.0 466.6,600.0 469.3,570.0 471.9,543.7 474.6,556.2 477.3,549.1 480.0,534.8 481.1,440.4 485.3,467.1 488.9,545.0 491.5,540.0 496.2,541.9 497.1,600.0 499.8,678.0 505.1,676.0 506.9,675.5 508.7,693.3 512.3,684.4 514.0,625.6 518.5,600.0 520.3,549.1 524.7,593.6 528.3,550.8 531.0,575.0 532.8,531.3 534.9,484.9 536.7,530.0 539.0,527.7 541.7,533.0 543.4,600.0 544.3,660.0 546.1,655.0 553.2,665.0 555.9,677.3 559.5,639.9 562.0,645.0 564.8,665.0 571.0,652.3 576.4,698.7 580.0,671.9 584.5,667.5 587.1,672.0 592.8,653.2 596.9,666.6 601.4,672.0 606.7,666.6 611.2,680.8 616.5,662.1 621.0,691.5 627.7,657.7 633.4,668.4 640.6,673.7 642.5,676.0 644.1,709.3 649.5,716.0" stroke="#0000ff" stroke-width="1.66" stroke-dasharray="6.14 2.66"/>
<polyline points="87.1,719.3 89.4,719.3 91.8,719.3 94.1,719.3 96.5,719.3 98.8,719.3 101.2,719.3 103.5,719.3 105.9,719.3 108.2,719.3 110.6,719.3 113.0,719.3 115.3,719.3 117.7,719.3 120.0,719.3 123.0,718.6 126.0,717.9 128.2,717.8 130.5,718.3 132.8,716.9 135.0,716.7 137.4,716.9 139.9,716.0 142.3,716.7 144.9,717.1 147.4,717.5 150.0,716.1 152.5,716.5 155.0,715.9 157.5,717.5 160.0,717.1 162.5,715.2 165.0,716.7 167.6,716.1 170.1,714.9 172.6,714.3 175.1,713.7 177.5,713.9 180.0,715.6 183.1,716.1 186.1,717.9 188.5,716.8 191.0,715.1 193.4,714.9 195.9,713.6 198.3,713.3 200.7,713.1 203.2,714.0 205.6,714.3 208.1,715.3 210.5,715.4 212.8,714.1 215.2,714.9 217.5,714.0 219.8,712.8 222.1,711.6 224.5,709.9 226.8,708.8 229.2,709.6 231.6,709.8 233.9,712.0 236.3,711.9 238.7,713.6 241.1,713.3 243.4,714.8 245.8,714.8 248.1,713.3 250.4,714.0 252.7,715.8 255.1,715.1 257.4,716.6 259.8,714.5 262.3,713.0 264.7,713.4 267.2,712.9 269.6,711.0 272.0,710.2 274.3,710.4 276.7,711.5 279.1,710.7 281.4,708.9 283.8,708.8 286.9,709.3 290.0,710.0 292.5,711.9 295.0,710.8 297.5,711.9 300.0,711.9 302.5,711.6 305.0,713.0 307.5,711.9 310.0,713.3 312.7,710.8 315.3,710.2 318.0,708.4 321.1,703.3 324.2,699.7 327.1,702.0 330.0,703.6 332.5,706.3 335.0,706.4 337.5,708.3 340.0,710.8 342.5,711.3 345.0,711.1 347.5,714.1 350.0,713.4 352.7,711.1 355.3,709.9 358.0,706.6 361.6,703.6 364.3,705.7 367.0,708.4 369.6,712.2 372.3,714.1 374.8,714.4 377.4,713.3 379.9,713.0 382.5,713.6 385.0,712.0 387.5,711.9 390.0,712.3 392.5,710.6 395.0,710.2 397.5,712.4 400.0,712.7 402.5,711.9 405.0,712.3 407.5,714.3 410.0,715.5 412.5,714.6 415.0,717.0 417.5,716.3 420.0,715.2 422.5,714.3 425.0,713.1 427.5,713.7 430.0,716.5 432.5,715.7 435.0,717.5 437.5,716.2 440.0,717.2 442.5,716.5 445.0,715.5 447.7,712.7 450.4,711.4 453.2,707.4 455.9,705.2 458.2,706.0 460.4,706.7 462.7,706.2 465.0,705.5 467.3,706.6 469.6,704.6 471.9,703.8 474.6,705.1 477.3,706.2 480.0,706.0 482.2,707.7 484.4,709.6 486.6,711.5 488.9,711.9 491.1,713.9 493.3,716.5 495.5,716.8 497.8,716.2 500.0,716.4 502.3,714.7 504.6,712.2 506.8,710.5 509.1,708.9 511.4,709.4 514.3,710.1 517.1,711.9 520.0,710.9 522.5,713.5 525.0,714.5 527.5,716.3 530.0,716.6 532.5,717.8 535.0,715.6 537.5,716.4 540.0,716.5 542.5,716.9 545.0,716.5 547.5,716.4 550.0,716.6 552.5,716.9 555.0,715.7 557.5,716.2 560.0,716.5 562.5,716.3 565.0,715.2 567.5,715.8 570.0,715.8 572.5,715.7 575.0,716.3 577.5,716.2 580.0,717.2 582.5,716.2 585.0,714.1 587.5,714.3 590.0,714.1 592.6,713.2 595.2,712.2 597.8,710.9 600.2,712.3 602.6,712.5 605.0,712.9 607.4,713.1 609.7,710.8 612.1,711.7 614.5,710.1 617.0,711.3 619.5,711.1 621.9,710.5 626.3,717.8 628.8,717.5 631.2,717.9 633.6,718.7 636.1,717.3 638.5,716.9 641.0,717.6 643.4,718.6 645.9,717.6 649.5,718.5" stroke="#008000" stroke-width="1.66" stroke-dasharray="10.62 2.66 1.66 2.66"/>
<polyline points="87.1,719.3 103.2,719.3 103.7,560.8 107.0,562.5 111.0,565.0 114.0,563.5 118.4,563.5 118.9,714.0 122.0,712.0 127.7,690.0 133.4,683.7 135.2,615.0 138.8,610.0 142.3,600.0 145.0,620.0 149.5,528.0 152.1,630.0 155.7,610.0 161.0,590.0 165.5,640.0 170.8,630.0 176.2,660.0 178.0,698.0 182.4,680.0 186.0,690.0 190.0,680.0 196.3,641.2 200.0,660.0 204.0,650.0 208.5,651.4 212.0,670.0 214.5,650.0 216.5,564.7 218.3,564.7 220.0,600.0 223.0,580.0 226.0,560.0 229.5,449.8 233.0,510.0 237.0,546.9 240.6,516.6 245.0,577.2 247.2,684.0 252.0,690.0 257.4,697.2 263.5,627.0 268.5,633.1 271.6,600.0 274.7,620.0 279.7,590.0 285.1,580.0 287.9,660.0 290.3,670.0 293.9,600.0 297.5,643.4 300.1,590.0 303.7,560.0 306.4,610.0 310.8,640.0 314.4,659.5 317.1,620.0 321.5,666.6 326.0,600.0 327.8,510.0 330.4,530.0 334.9,511.9 337.0,530.0 340.2,512.7 342.9,600.0 345.6,640.0 350.0,610.0 351.8,696.9 355.4,620.0 359.8,562.6 365.2,530.0 368.7,508.3 373.2,580.0 374.1,614.9 377.0,560.0 379.4,550.0 383.0,622.1 386.0,610.0 390.2,540.0 392.6,640.0 396.3,640.0 399.9,530.0 403.5,490.0 406.9,558.0 410.5,545.0 414.4,505.0 418.0,590.0 423.0,600.0 427.4,570.4 430.0,620.0 434.5,674.6 438.1,590.0 439.0,520.0 442.5,560.0 447.0,622.1 450.6,600.0 454.1,620.0 457.7,640.0 463.0,645.0 466.6,600.0 471.9,531.3 474.6,550.0 480.0,540.0 483.0,530.0 486.2,600.0 488.0,652.3 490.0,641.7 496.9,648.8 503.4,661.3 509.6,705.8 512.3,680.0 516.0,640.0 520.3,622.1 525.0,630.0 530.1,650.6 534.5,591.8 539.0,600.0 543.4,675.5 550.6,680.8 555.0,660.0 559.5,640.0 564.8,680.8 570.0,660.0 576.4,690.0 580.0,675.0 587.1,680.8 592.8,660.0 597.0,675.0 603.2,680.8 610.0,675.0 615.6,668.4 621.9,693.3 627.7,670.0 633.4,695.1 640.6,696.9 644.1,709.3 649.5,716.0" stroke="#1f77b4" stroke-width="1.66" stroke-dasharray="1.66 2.74"/>
</g>
<g stroke="#3a3a3a" stroke-width="1" fill="none">
<line x1="59.5" y1="427.0" x2="677.5" y2="427.0"/>
<line x1="59.5" y1="734.5" x2="677.5" y2="734.5"/>
<line x1="59.5" y1="426.5" x2="59.5" y2="735.0"/>
<line x1="677.5" y1="426.5" x2="677.5" y2="735.0"/>
</g>
<line x1="55.3" y1="719.60" x2="59.5" y2="719.60" stroke="#3a3a3a" stroke-width="0.9"/>
<text x="53.1" y="723.80" font-family='"Liberation Sans", sans-serif' font-size="11.2" fill="#262626" text-anchor="end" textLength="6.8" lengthAdjust="spacingAndGlyphs">0</text>
<line x1="55.3" y1="676.24" x2="59.5" y2="676.24" stroke="#3a3a3a" stroke-width="0.9"/>
<text x="51.5" y="680.44" font-family='"Liberation Sans", sans-serif' font-size="11.2" fill="#262626" text-anchor="end" textLength="20.4" lengthAdjust="spacingAndGlyphs">500</text>
<line x1="55.3" y1="632.87" x2="59.5" y2="632.87" stroke="#3a3a3a" stroke-width="0.9"/>
<text x="51.5" y="637.07" font-family='"Liberation Sans", sans-serif' font-size="11.2" fill="#262626" text-anchor="end" textLength="27.2" lengthAdjust="spacingAndGlyphs">1000</text>
<line x1="55.3" y1="589.50" x2="59.5" y2="589.50" stroke="#3a3a3a" stroke-width="0.9"/>
<text x="51.5" y="593.71" font-family='"Liberation Sans", sans-serif' font-size="11.2" fill="#262626" text-anchor="end" textLength="27.2" lengthAdjust="spacingAndGlyphs">1500</text>
<line x1="55.3" y1="546.14" x2="59.5" y2="546.14" stroke="#3a3a3a" stroke-width="0.9"/>
<text x="51.5" y="550.34" font-family='"Liberation Sans", sans-serif' font-size="11.2" fill="#262626" text-anchor="end" textLength="27.2" lengthAdjust="spacingAndGlyphs">2000</text>
<line x1="55.3" y1="502.77" x2="59.5" y2="502.77" stroke="#3a3a3a" stroke-width="0.9"/>
<text x="51.5" y="506.97" font-family='"Liberation Sans", sans-serif' font-size="11.2" fill="#262626" text-anchor="end" textLength="27.2" lengthAdjust="spacingAndGlyphs">2500</text>
<line x1="55.3" y1="459.41" x2="59.5" y2="459.41" stroke="#3a3a3a" stroke-width="0.9"/>
<text x="51.5" y="463.61" font-family='"Liberation Sans", sans-serif' font-size="11.2" fill="#262626" text-anchor="end" textLength="27.2" lengthAdjust="spacingAndGlyphs">3000</text>
<rect x="597.8" y="432.5" width="74.2" height="76.5" rx="3" ry="3" fill="#ffffff" fill-opacity="0.8" stroke="#d6d6d6" stroke-width="1"/>
<line x1="601.5" y1="441.7" x2="624.2" y2="441.7" stroke="#ff0000" stroke-width="1.66" stroke-linecap="square"/>
<text x="633.8" y="445.7" font-family='"Liberation Sans", sans-serif' font-size="10.1" font-style="italic" fill="#1a1a1a" textLength="22.6" lengthAdjust="spacingAndGlyphs">&#916;NN</text>
<text x="657.5" y="447.4" font-family='"Liberation Sans", sans-serif' font-size="9.1" fill="#1a1a1a" textLength="8.0" lengthAdjust="spacingAndGlyphs">11</text>
<line x1="601.5" y1="460.8" x2="624.2" y2="460.8" stroke="#0000ff" stroke-width="1.66" stroke-dasharray="6.14 2.66"/>
<text x="633.8" y="464.5" font-family='"Liberation Sans", sans-serif' font-size="10.1" font-style="italic" fill="#1a1a1a" textLength="22.6" lengthAdjust="spacingAndGlyphs">&#916;NN</text>
<text x="657.5" y="466.2" font-family='"Liberation Sans", sans-serif' font-size="9.1" fill="#1a1a1a" textLength="8.8" lengthAdjust="spacingAndGlyphs">20</text>
<line x1="601.5" y1="478.9" x2="624.2" y2="478.9" stroke="#008000" stroke-width="1.66" stroke-dasharray="10.62 2.66 1.66 2.66"/>
<text x="633.8" y="482.8" font-family='"Liberation Sans", sans-serif' font-size="10.1" font-style="italic" fill="#1a1a1a" textLength="21.3" lengthAdjust="spacingAndGlyphs">&#916;RF</text>
<text x="656.2" y="484.5" font-family='"Liberation Sans", sans-serif' font-size="9.1" fill="#1a1a1a" textLength="8.0" lengthAdjust="spacingAndGlyphs">11</text>
<line x1="601.5" y1="497.5" x2="624.2" y2="497.5" stroke="#1f77b4" stroke-width="1.66" stroke-dasharray="1.66 2.74"/>
<text x="633.8" y="501.2" font-family='"Liberation Sans", sans-serif' font-size="10.1" font-style="italic" fill="#1a1a1a" textLength="21.3" lengthAdjust="spacingAndGlyphs">&#916;RF</text>
<text x="656.2" y="502.9" font-family='"Liberation Sans", sans-serif' font-size="9.1" fill="#1a1a1a" textLength="8.8" lengthAdjust="spacingAndGlyphs">20</text>
<text x="145" y="419.2" font-family='"Liberation Sans", sans-serif' font-size="16.2" fill="#1a1a1a" textLength="446.4" lengthAdjust="spacingAndGlyphs">Moving Variance of Rank Difference - Emilia Romagna</text>
<text x="334.8" y="751" font-family='"Liberation Sans", sans-serif' font-size="10.8" fill="#262626" textLength="66.4" lengthAdjust="spacingAndGlyphs">Municipality</text>
<text transform="translate(15.9,581.6) rotate(-90)" text-anchor="middle" font-family='"Liberation Sans", sans-serif' font-size="11.3" fill="#262626" stroke="#262626" stroke-width="0.25">&#916;</text>
<text x="276.2" y="782.6" font-family='"Liberation Serif", serif' font-size="12.6" fill="#111" textLength="18.2" lengthAdjust="spacingAndGlyphs">(b)</text>
<text x="302.3" y="782.6" font-family='"Liberation Serif", serif' font-size="12.6" fill="#111" stroke="#111" stroke-width="0.35" textLength="106.4" lengthAdjust="spacingAndGlyphs">Emilia Romagna</text>
</svg>
</body></html>
